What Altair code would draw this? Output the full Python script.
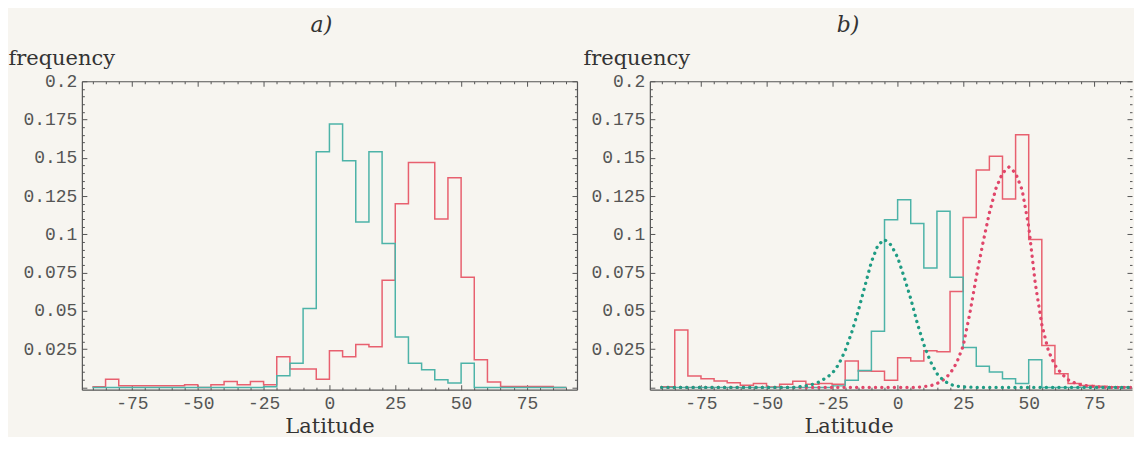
import altair as alt
import pandas as pd

# ---------------- data ----------------
bin_start = list(range(-90, 90, 5))  # 5-degree bins, -90 .. 85

a_teal = [0, 0, 0, 0, 0, 0, 0, 0, 0, 0, 0, 0, 0, 0.0005,
          0.0076, 0.0158, 0.0515, 0.154, 0.172, 0.148, 0.108, 0.154, 0.094, 0.033,
          0.0158, 0.0115, 0.005, 0.0028, 0.0158, 0, 0, 0, 0, 0, 0, 0]
a_red = [0.0005, 0.0054, 0.0011, 0.0011, 0.0011, 0.0011, 0.0011, 0.0017, 0.0, 0.0017,
         0.0039, 0.0017, 0.0039, 0.0017, 0.020, 0.012, 0.012, 0.0054, 0.024, 0.020,
         0.028, 0.0266, 0.070, 0.120, 0.147, 0.147, 0.110, 0.137, 0.072, 0.018,
         0.0035, 0.0006, 0.0006, 0.0006, 0.0006, 0.0]

b_teal = [0, 0, 0, 0, 0, 0, 0, 0, 0, 0, 0, 0, 0, 0.001,
          0.0047, 0.011, 0.0367, 0.1096, 0.1226, 0.107, 0.078, 0.115, 0.072, 0.026,
          0.0138, 0.010, 0.0057, 0.0025, 0.018, 0, 0, 0, 0, 0, 0, 0]
b_red = [0.0005, 0.0375, 0.0075, 0.0057, 0.0042, 0.003, 0.0014, 0.0025, 0.0003, 0.002,
         0.004, 0.002, 0.0025, 0.002, 0.0172, 0.0107, 0.0105, 0.0047, 0.0194, 0.0172,
         0.024, 0.0233, 0.0627, 0.111, 0.142, 0.151, 0.123, 0.165, 0.0966, 0.0274,
         0.009, 0.0025, 0.0012, 0.0008, 0.0005, 0.0003]

teal_fit_lat = [-90, -40, -37.5, -35, -32.5, -30, -27.5, -25, -22.5, -20, -17.5, -15,
                -12.5, -10, -7.5, -5, -2.5, 0, 2.5, 5, 7.5, 10, 12.5, 15, 17.5, 20,
                22.5, 25, 30, 90]
teal_fit_val = [0, 0, 0.0005, 0.001, 0.002, 0.0035, 0.006, 0.009, 0.015, 0.024, 0.036,
                0.050, 0.066, 0.082, 0.093, 0.0966, 0.093, 0.085, 0.072, 0.058, 0.042,
                0.028, 0.017, 0.009, 0.0045, 0.002, 0.0008, 0.0003, 0, 0]

red_fit_lat = [-90, 7.5, 10, 12.5, 15, 17.5, 20, 22.5, 25, 27.5, 30, 32.5, 35, 37.5,
               40, 42.5, 45, 47.5, 50, 52.5, 55, 57.5, 60, 62.5, 65, 67.5, 70, 75, 80, 90]
red_fit_val = [0, 0, 0.0005, 0.001, 0.0025, 0.005, 0.009, 0.016, 0.027, 0.048, 0.072,
               0.094, 0.114, 0.130, 0.140, 0.144, 0.140, 0.129, 0.105, 0.068, 0.041,
               0.024, 0.0145, 0.009, 0.005, 0.003, 0.0015, 0.0005, 0, 0]

x_major = [-75, -50, -25, 0, 25, 50, 75]
y_major = [0.025, 0.05, 0.075, 0.1, 0.125, 0.15, 0.175, 0.2]
x_minor = list(range(-90, 91, 5))
y_minor = [round(i * 0.005, 3) for i in range(41)]

# ---------------- styling ----------------
BG = "#f7f5f0"
TEAL = "#4db3a8"
RED = "#e8606f"
TEAL_DOT = "#1f9c84"
RED_DOT = "#e0466a"
FRAME = "#555555"
TXT = "#555555"
MONO = "Liberation Mono"
SERIF = "DejaVu Serif"
H = 309
Y_DOM = [-0.0015, 0.2]


def step_df(vals):
    return pd.DataFrame({"lat": bin_start + [90], "f": vals + [vals[-1]]})


def panel(title, dx, teal, red, W, x_dom, freq_x, lat_x, fits, right_frame):
    xs = alt.Scale(domain=x_dom, nice=False, zero=False)
    ys = alt.Scale(domain=Y_DOM, nice=False, zero=False)
    major_x = {"condition": {"test": "datum.value % 25 === 0", "value": 5}, "value": 2.5}
    major_y = {"condition": {"test": "abs(round(datum.value*40) - datum.value*40) < 0.001",
                             "value": 5}, "value": 2.5}
    tick_common = dict(labels=False, grid=False, ticks=True, tickColor=FRAME,
                       tickWidth=1, minExtent=0, maxExtent=0,
                       domainColor=FRAME, domainWidth=1.2)
    dom = dict(domain=True, domainColor=FRAME, domainWidth=1.2)

    hist_t = step_df(teal)
    hist_r = step_df(red)

    lab = alt.Chart(hist_t).mark_line(opacity=0).encode(
        x=alt.X("lat:Q", scale=xs, axis=alt.Axis(
            orient="bottom", values=x_major, labelExpr="'' + datum.value", ticks=False,
            grid=False, labelFont=MONO, labelFontSize=18, labelColor=TXT,
            labelPadding=5, title="Latitude", titleFont=SERIF, titleFontSize=21,
            titleFontWeight="normal", titleColor="#333333", titleX=lat_x, titleY=43,
            titleAlign="center", titleBaseline="alphabetic", **dom)),
        y=alt.Y("f:Q", scale=ys, axis=alt.Axis(
            orient="left", values=y_major, format=".3~f", ticks=False,
            grid=False, labelFont=MONO, labelFontSize=18, labelColor=TXT, labelPadding=5,
            title="frequency", titleAngle=0, titleX=freq_x, titleY=-17, titleAlign="left",
            titleBaseline="alphabetic", titleFont=SERIF, titleFontSize=21,
            titleFontWeight="normal", titleColor="#333333", **dom)),
    )
    # inward ticks from the bottom and the left
    tk1 = alt.Chart(hist_t).mark_line(opacity=0).encode(
        x=alt.X("lat:Q", scale=xs, title=None, axis=alt.Axis(
            orient="top", offset=-H, values=x_minor, tickSize=major_x, domain=False,
            **tick_common)),
        y=alt.Y("f:Q", scale=ys, title=None, axis=alt.Axis(
            orient="right", offset=-W, values=y_minor, tickSize=major_y, domain=False,
            **tick_common)),
    )
    # inward ticks from the top and the right, with the top (and right) frame lines
    tk2 = alt.Chart(hist_t).mark_line(opacity=0).encode(
        x=alt.X("lat:Q", scale=xs, title=None, axis=alt.Axis(
            orient="bottom", offset=-H, values=x_minor, tickSize=major_x, domain=True,
            **tick_common)),
        y=alt.Y("f:Q", scale=ys, title=None, axis=alt.Axis(
            orient="left", offset=-W, values=y_minor, tickSize=major_y,
            domain=right_frame, **tick_common)),
    )

    layers = [lab, tk1, tk2]
    for df, col in ((hist_r, RED), (hist_t, TEAL)):
        layers.append(alt.Chart(df).mark_line(
            color=col, strokeWidth=1.5, interpolate="step-after", clip=True).encode(
            x=alt.X("lat:Q", scale=xs, axis=None),
            y=alt.Y("f:Q", scale=ys, axis=None)))
    if fits:
        tf = pd.DataFrame({"lat": teal_fit_lat, "f": teal_fit_val})
        rf = pd.DataFrame({"lat": red_fit_lat, "f": red_fit_val})
        for df, col in ((rf, RED_DOT), (tf, TEAL_DOT)):
            layers.append(alt.Chart(df).mark_line(
                color=col, strokeWidth=3.3, strokeDash=[0.1, 6.2], strokeCap="round",
                clip=True).encode(
                x=alt.X("lat:Q", scale=xs, axis=None),
                y=alt.Y("f:Q", scale=ys, axis=None)))

    return alt.layer(*layers).resolve_axis(x="independent", y="independent").properties(
        width=W, height=H,
        title=alt.TitleParams(title, font=SERIF, fontStyle="italic", fontSize=22,
                              fontWeight="normal", color="#333333", anchor="middle",
                              dx=dx, offset=10),
    )


pa = panel("a)", -8, a_teal, a_red, 496, [-94, 94], -74, 248, False, True)
pb = panel("b)", -43, b_teal, b_red, 483, [-94.5, 89.4], -67, 199, True, False)

chart = alt.hconcat(pa, pb, spacing=73, bounds="flush").properties(
    background=BG,
    padding={"top": 6, "left": 0, "right": 0, "bottom": 0},
).configure_view(strokeWidth=0)

chart.save("out.html", embed_options={"renderer": "svg", "actions": False})
